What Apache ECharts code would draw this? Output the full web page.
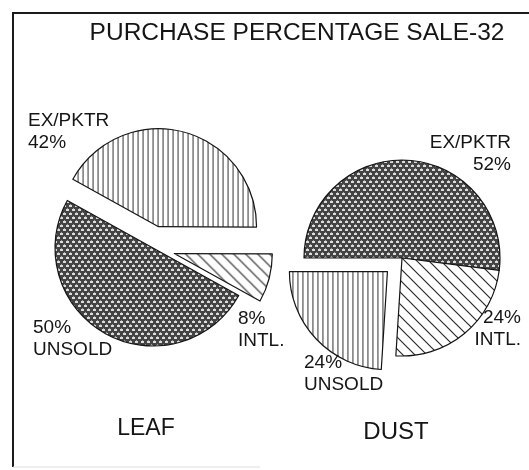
<!DOCTYPE html>
<html>
<head>
<meta charset="utf-8">
<script src="https://cdn.jsdelivr.net/npm/echarts@6/dist/echarts.min.js"></script>
<style>
html,body{margin:0;background:#fff}
#chart{width:529px;height:470px}
</style>
</head>
<body>
<div id="chart"></div>
<script>
// data
var titleText = 'PURCHASE PERCENTAGE SALE-32';
var categories = ['EX/PKTR', 'INTL.', 'UNSOLD'];
var leafValues = [42, 8, 50];
var dustValues = [52, 24, 24];
var pieNames = ['LEAF', 'DUST'];
var leafExploded = ['EX/PKTR', 'INTL.'];
var dustExploded = ['UNSOLD'];

var FONT = '"Liberation Sans", Arial, Helvetica, sans-serif';
var INK = '#151515';

// hatch tiles, a fresh pattern object every time
function makeTile(w, h, draw) {
	var c = document.createElement('canvas');
	c.width = w;
	c.height = h;
	var ctx = c.getContext('2d');
	draw(ctx, w, h);
	return {image: c, repeat: 'repeat'};
}
function vLines() {
	return makeTile(5, 5, function(ctx, w, h) {
		ctx.fillStyle = '#fff';
		ctx.fillRect(0, 0, w, h);
		ctx.fillStyle = '#333';
		ctx.fillRect(2, 0, 1, h);
	});
}
function diagLines() {
	return makeTile(12, 12, function(ctx, w, h) {
		ctx.fillStyle = '#fff';
		ctx.fillRect(0, 0, w, h);
		ctx.strokeStyle = '#2a2a2a';
		ctx.lineWidth = 1.2;
		ctx.beginPath();
		ctx.moveTo(-2, -2); ctx.lineTo(w + 2, h + 2);
		ctx.moveTo(-2 - w, -2); ctx.lineTo(2, h + 2);
		ctx.moveTo(w - 2, -2); ctx.lineTo(2 * w + 2, h + 2);
		ctx.stroke();
	});
}
function stipple() {
	return makeTile(6, 8, function(ctx, w, h) {
		ctx.fillStyle = '#444';
		ctx.fillRect(0, 0, w, h);
		ctx.fillStyle = '#dcdcdc';
		ctx.fillRect(0, 1, 3, 2);
		ctx.fillRect(3, 5, 3, 2);
		ctx.fillStyle = '#9a9a9a';
		ctx.fillRect(1, 0, 1, 1);
		ctx.fillRect(4, 4, 1, 1);
	});
}

var leafFill = {'EX/PKTR': vLines, 'INTL.': diagLines, 'UNSOLD': stipple};
var dustFill = {'EX/PKTR': stipple, 'INTL.': diagLines, 'UNSOLD': vLines};

// where the hand-set labels sit: [x, y, align]
var leafLabelPos = {'EX/PKTR': [28, 110, 'left'], 'INTL.': [238, 308, 'left'], 'UNSOLD': [33, 317, 'left']};
var dustLabelPos = {'EX/PKTR': [511, 132, 'right'], 'INTL.': [521, 307, 'right'], 'UNSOLD': [304, 352, 'left']};

function buildData(values, fills, exploded) {
	return categories.map(function(name, i) {
		return {
			name: name,
			value: values[i],
			selected: exploded.indexOf(name) >= 0,
			itemStyle: {color: fills[name]()}
		};
	});
}

function labelText(name, value) {
	if (name === 'EX/PKTR') return name + '\n' + value + '%';
	return value + '%\n' + name;
}

function pieSeries(name, center, values, fills, exploded, offset, startAngle) {
	return {
		name: name,
		type: 'pie',
		center: center,
		radius: [0, 98],
		startAngle: startAngle,
		clockwise: true,
		selectedMode: 'multiple',
		selectedOffset: offset,
		data: buildData(values, fills, exploded),
		itemStyle: {borderColor: INK, borderWidth: 1.2},
		label: {show: false},
		labelLine: {show: false},
		emphasis: {disabled: true}
	};
}

function textEl(x, y, text, size, align, lineHeight) {
	return {
		type: 'text', x: x, y: y, z: 10,
		style: {
			text: text, fontFamily: FONT, fontSize: size, lineHeight: lineHeight || size,
			fill: INK, align: align, textAlign: align, verticalAlign: 'top'
		}
	};
}

function sliceLabels(values, pos) {
	return categories.map(function(name, i) {
		var p = pos[name];
		return textEl(p[0], p[1], labelText(name, values[i]), 19, p[2], 22);
	});
}

var chart = echarts.init(document.getElementById('chart'), null, {renderer: 'canvas'});

var graphics = [
	{type: 'polyline', shape: {points: [[529, 13], [13, 13], [13, 467]]}, style: {stroke: '#1a1a1a', lineWidth: 2, fill: null}},
	{type: 'line', shape: {x1: 13, y1: 467, x2: 260, y2: 467}, style: {stroke: '#dedede', lineWidth: 1}},
	textEl(297, 21, titleText, 24.5, 'center'),
	textEl(146, 417, pieNames[0], 23, 'center'),
	textEl(396, 420, pieNames[1], 24, 'center')
].concat(sliceLabels(leafValues, leafLabelPos), sliceLabels(dustValues, dustLabelPos));

var option = {
	animation: false,
	backgroundColor: '#fff',
	graphic: graphics,
	series: [
		pieSeries(pieNames[0], [153, 248], leafValues, leafFill, leafExploded, 22, 151),
		pieSeries(pieNames[1], [402, 258], dustValues, dustFill, dustExploded, 20, 180)
	]
};

chart.setOption(option);
</script>
</body>
</html>
